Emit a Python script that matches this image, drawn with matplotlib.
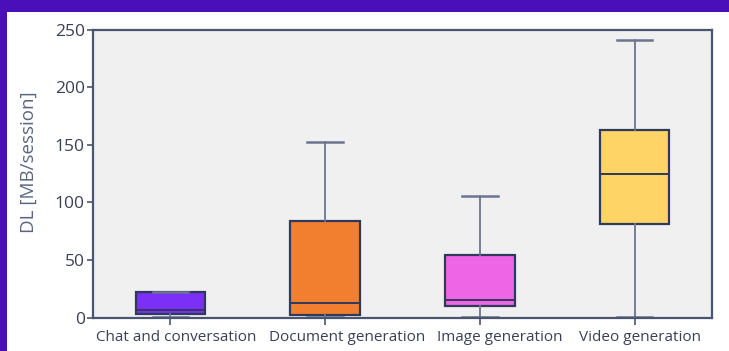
import matplotlib.pyplot as plt
import matplotlib.transforms as mtransforms
import numpy as np

# download volume per session for each genAI use case (box statistics)
categories = ["Chat and conversation", "Document generation", "Image generation", "Video generation"]
whisker_low = [0.5, 0.5, 0.4, 0.5]
q1 = [3.2, 2.3, 9.6, 81]
median = [6.5, 12.5, 15.4, 124.5]
q3 = [22.5, 83.5, 54, 163]
whisker_high = [22.5, 153, 106, 241]
box_colors = ["#7b2ff7", "#f27f30", "#ee66e6", "#ffd466"]

plt.rcParams['font.family'] = ['Open Sans', 'DejaVu Sans']

fig = plt.figure(figsize=(7.29, 3.51), dpi=100)
fig.patch.set_facecolor("#4a0fb8")

# white card on top of the purple backdrop
card = plt.Rectangle((7 / 729, 0), 1, (351 - 12) / 351, transform=fig.transFigure,
                     facecolor="white", edgecolor="none", zorder=-5)
fig.add_artist(card)

ax = fig.add_axes([93 / 729, (351 - 317.5) / 351, (712 - 93) / 729, (317.5 - 30) / 351])
ax.set_facecolor("#f0f0f0")

stats = []
for i in range(len(categories)):
    stats.append(dict(whislo=whisker_low[i], q1=q1[i], med=median[i],
                      q3=q3[i], whishi=whisker_high[i], fliers=[]))

edge = "#2f3a5a"
wcol = "#6b7590"
bp = ax.bxp(stats, positions=np.arange(len(categories)), widths=0.45,
            patch_artist=True, showfliers=False,
            boxprops=dict(edgecolor=edge, linewidth=1.6),
            medianprops=dict(color=edge, linewidth=1.4),
            whiskerprops=dict(color=wcol, linewidth=1.3),
            capprops=dict(color=wcol, linewidth=1.8),
            capwidths=0.23)
for patch, c in zip(bp['boxes'], box_colors):
    patch.set_facecolor(c)

ax.set_xlim(-0.5, len(categories) - 0.5)
ax.set_ylim(0, 250)
ax.set_yticks([0, 50, 100, 150, 200, 250])
ax.set_xticks(np.arange(len(categories)))
ax.set_xticklabels(categories)

for s in ax.spines.values():
    s.set_color("#4a5570")
    s.set_linewidth(1.6)

ax.tick_params(axis='y', direction='out', length=4, width=1.2, color="#4a5570",
               labelsize=12.5, labelcolor="#3a4055", pad=2)
ax.tick_params(axis='x', direction='out', length=5, width=1.2, color="#4a5570",
               labelsize=11, labelcolor="#3a4055", pad=4)

# nudge the category labels a little to the right
shifts = [6, 22, 20, 5]
for lbl, dx in zip(ax.get_xticklabels(), shifts):
    lbl.set_transform(lbl.get_transform() +
                      mtransforms.ScaledTranslation(dx / 100, 0, fig.dpi_scale_trans))

ax.set_ylabel("DL [MB/session]", fontsize=13.5, color="#5a6580")
ax.yaxis.set_label_coords(-0.089, 0.54)

fig.savefig("out.png", dpi=100, facecolor=fig.get_facecolor())
